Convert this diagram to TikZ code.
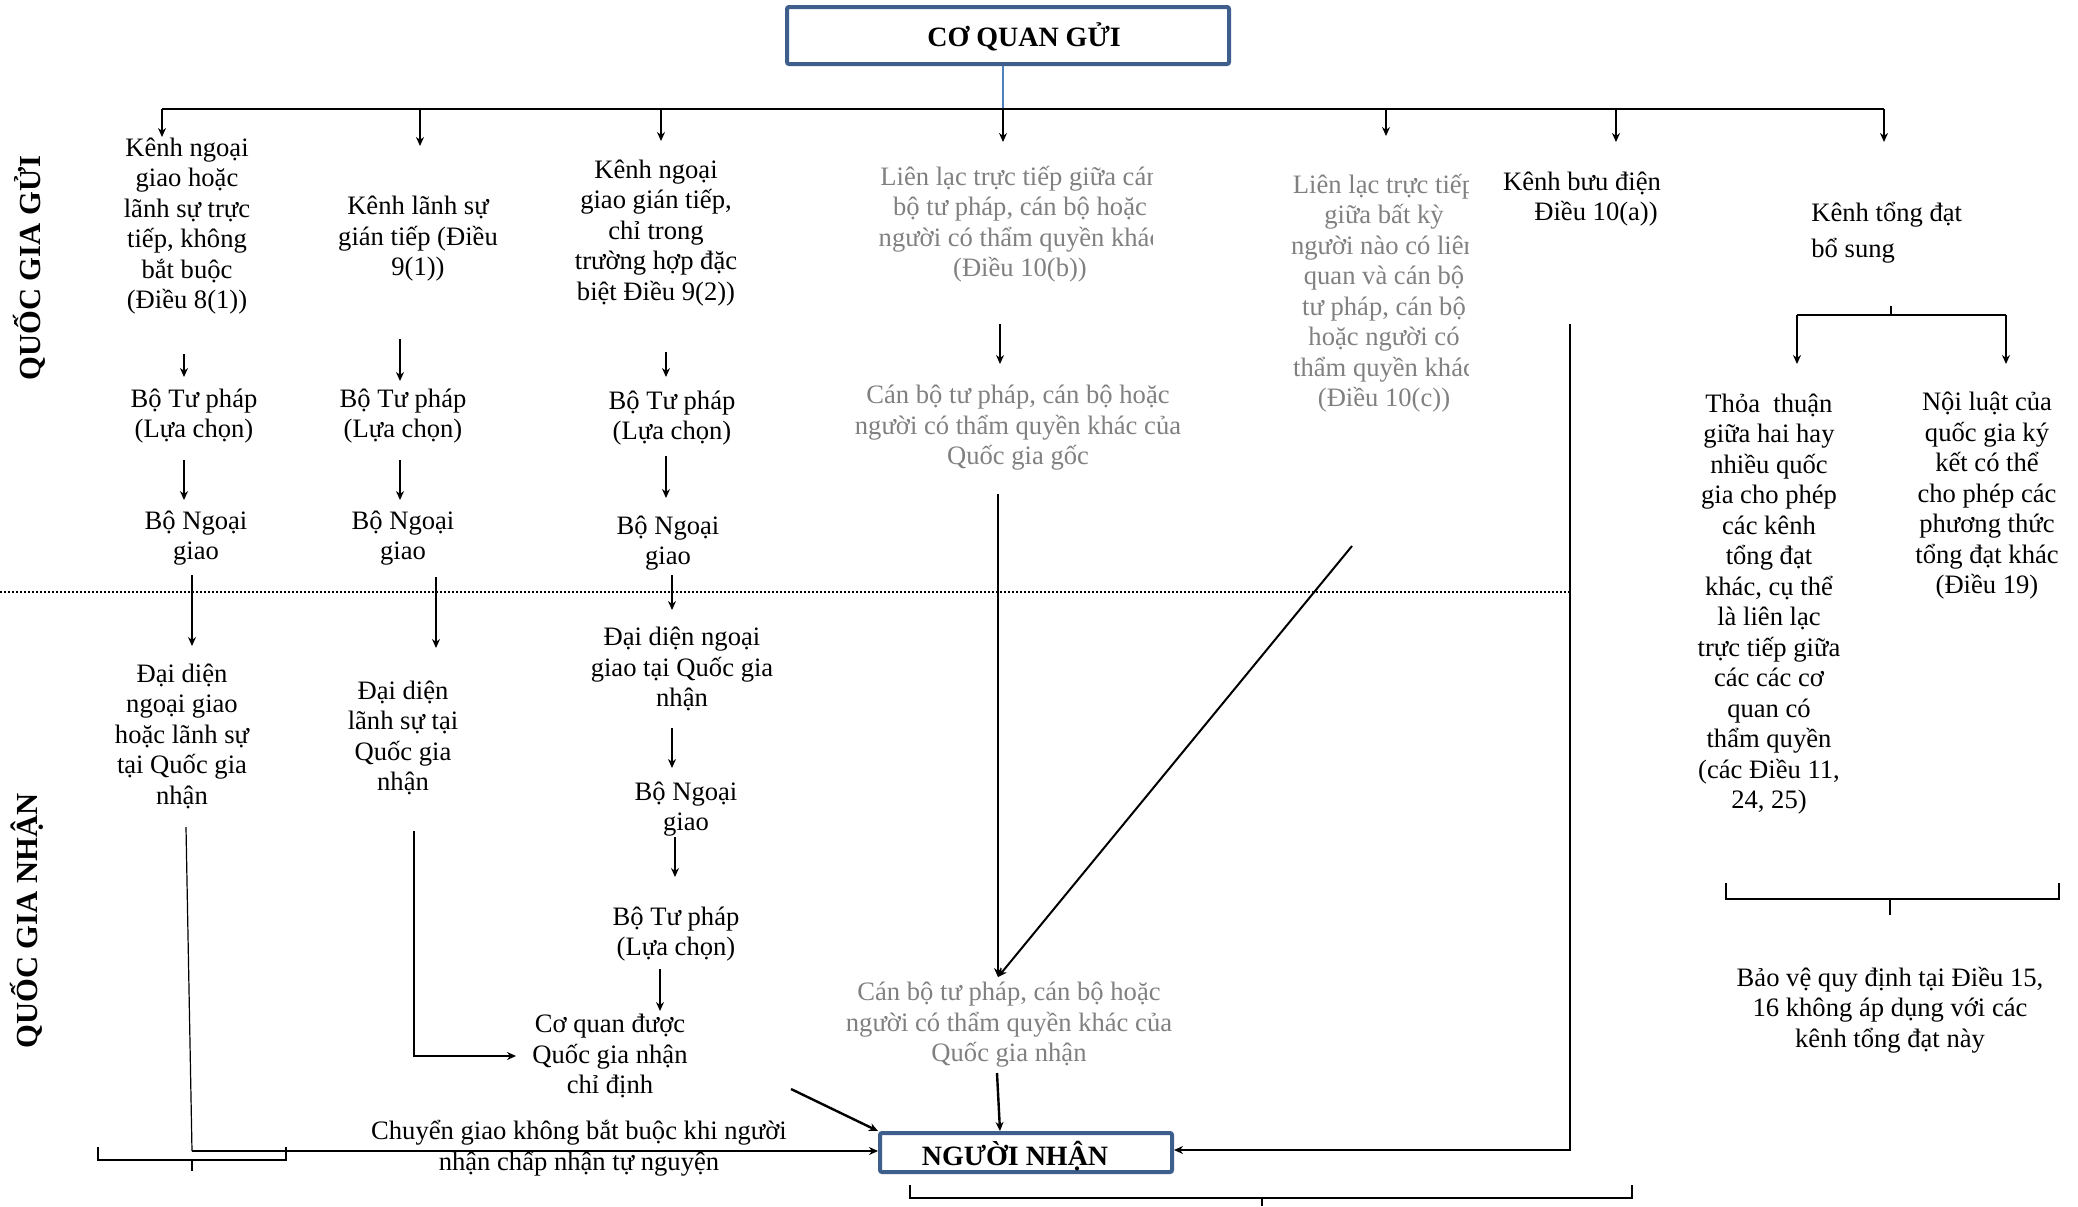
\documentclass[tikz,border=0pt]{standalone}
\usepackage{fontspec}
\setmainfont{Liberation Serif}
\usetikzlibrary{arrows.meta}
\definecolor{boxblue}{RGB}{62,95,140}
\definecolor{txtgray}{RGB}{128,128,128}
\definecolor{linkblue}{RGB}{79,129,189}
\begin{document}
\begin{tikzpicture}[x=0.5pt,y=-0.5pt,
 txt/.style={font=\fontsize{13.3}{15.25}\selectfont, align=center, inner sep=0pt},
 gtxt/.style={txt, text=txtgray},
 arr/.style={-{Stealth[length=4.5pt,width=4pt]}, line width=1.2pt},
 bus/.style={line width=0.9pt},
 thinln/.style={line width=0.6pt},
 rbox/.style={draw=boxblue, line width=2pt, rounded corners=1pt},
 head/.style={font=\fontsize{14}{16}\selectfont\bfseries, inner sep=0pt},
 side/.style={font=\fontsize{15.3}{17}\selectfont\bfseries, rotate=90, inner sep=0pt}]

\useasboundingbox (0,0) rectangle (2078,1206);

% side labels
\node[side] (gui) at (29,268) {QUỐC GIA GỬI};
\node[side] (nhan) at (27,921) {QUỐC GIA NHẬN};

% sender box
\node[rbox, minimum width=221pt, minimum height=28.5pt] (sender) at (1008,35.5) {};
\node[head] (senderlbl) at (1024,37) {CƠ QUAN GỬI};
\coordinate (hub) at (1003,109);
\draw[draw=linkblue, line width=0.6pt] (sender.south -| hub) -- (hub);

% bus
\coordinate (busL) at (162,109);
\coordinate (busR) at (1884,109);
\draw[bus] (busL) -- (busR);
\draw[arr] (162,109) -- (162,137);
\draw[arr] (420,109) -- (420,146);
\draw[arr] (661,109) -- (661,141);
\draw[arr] (1003,109) -- (1003,142);
\draw[arr] (1386,109) -- (1386,136);
\draw[arr] (1616,109) -- (1616,142);
\draw[arr] (1884,109) -- (1884,142);

% dotted divider
\draw[line width=1pt, dash pattern=on 1pt off 1pt] (0,592) -- (1570,592);

% column 1
\node[txt] (c1a) at (187,226) {Kênh ngoại\\giao hoặc\\lãnh sự trực\\tiếp, không\\bắt buộc\\(Điều 8(1))};
\node[txt] (c1b) at (194,416) {Bộ Tư pháp\\(Lựa chọn)};
\node[txt] (c1c) at (196,538) {Bộ Ngoại\\giao};
\node[txt] (c1d) at (182,736) {Đại diện\\ngoại giao\\hoặc lãnh sự\\tại Quốc gia\\nhận};
\draw[arr] (184,354) -- (184,377);
\draw[arr] (184,460) -- (184,500);
\draw[arr] (192,575) -- (192,646);

% column 2
\node[txt] (c2a) at (418,239) {Kênh lãnh sự\\gián tiếp (Điều\\9(1))};
\node[txt] (c2b) at (403,416) {Bộ Tư pháp\\(Lựa chọn)};
\node[txt] (c2c) at (403,538) {Bộ Ngoại\\giao};
\node[txt] (c2d) at (403,738) {Đại diện\\lãnh sự tại\\Quốc gia\\nhận};
\draw[arr] (400,339) -- (400,381);
\draw[arr] (400,460) -- (400,500);
\draw[arr] (436,577) -- (436,648);

% column 3
\node[txt] (c3a) at (656,233) {Kênh ngoại\\giao gián tiếp,\\chỉ trong\\trường hợp đặc\\biệt Điều 9(2))};
\node[txt] (c3b) at (672,418) {Bộ Tư pháp\\(Lựa chọn)};
\node[txt] (c3c) at (668,543) {Bộ Ngoại\\giao};
\node[txt] (c3d) at (682,669) {Đại diện ngoại\\giao tại Quốc gia\\nhận};
\node[txt] (c3e) at (686,809) {Bộ Ngoại\\giao};
\node[txt] (c3f) at (676,934) {Bộ Tư pháp\\(Lựa chọn)};
\node[txt] (c3g) at (610,1056) {Cơ quan được\\Quốc gia nhận\\chỉ định};
\draw[arr] (666,352) -- (666,377);
\draw[arr] (666,456) -- (666,498);
\draw[arr] (672,575) -- (672,610);
\draw[arr] (672,728) -- (672,768);
\draw[arr] (675,837) -- (675,877);
\draw[arr] (660,969) -- (660,1011);

\node[txt] (transfer) at (579,1148) {Chuyển giao không bắt buộc khi người\\nhận chấp nhận tự nguyện};

% receiver box
\node[rbox, minimum width=146pt, minimum height=19.5pt] (recv) at (1026,1152.5) {};
\node[head] (recvlbl) at (1015,1156) {NGƯỜI NHẬN};

% column 4 (gray)
\begin{scope}
\clip (840,150) rectangle (1152,300);
\node[gtxt] (c4a) at (1020,224) {Liên lạc trực tiếp giữa cán\\bộ tư pháp, cán bộ hoặc\\người có thẩm quyền khác\\(Điều 10(b))};
\end{scope}
\node[gtxt] (c4b) at (1018,428) {Cán bộ tư pháp, cán bộ hoặc\\người có thẩm quyền khác của\\Quốc gia gốc};
\node[gtxt] (c4c) at (1009,1025) {Cán bộ tư pháp, cán bộ hoặc\\người có thẩm quyền khác của\\Quốc gia nhận};
\draw[arr] (1000,324) -- (1000,364);
\coordinate (meet) at (998,977);
\draw[arr] (998,494) -- (meet);
\coordinate (diagtop) at (1352,546);
\draw[arr, line width=1pt] (diagtop) -- (meet);
\draw[arr] (997,1073) -- (recv.north -| 1000,0);

% column 5 (gray)
\begin{scope}
\clip (1280,150) rectangle (1468,420);
\node[gtxt] (c5a) at (1384,293) {Liên lạc trực tiếp\\giữa bất kỳ\\người nào có liên\\quan và cán bộ\\tư pháp, cán bộ\\hoặc người có\\thẩm quyền khác\\(Điều 10(c))};
\end{scope}

% column 6
\node[txt] (c6a) at (1582,199) {Kênh bưu điện\\\hspace*{14pt}Điều 10(a))};
\coordinate (postA) at (1570,324);
\coordinate (postB) at (1570,1150);
\draw[arr, line width=1pt] (postA) -- (postB) -- (postB -| recv.east);

% column 7
\node[txt, align=left, anchor=west, font=\fontsize{13.3}{18}\selectfont] (c7a) at (1811,233) {Kênh tổng đạt\\bổ sung};
\draw[thinln] (1891,306) -- (1891,315);
\draw[bus] (1797,315) -- (2006,315);
\draw[arr] (1797,315) -- (1797,364);
\draw[arr] (2006,315) -- (2006,364);
\node[txt] (c7b) at (1769,604) {Thỏa~~thuận\\giữa hai hay\\nhiều quốc\\gia cho phép\\các kênh\\tổng đạt\\khác, cụ thể\\là liên lạc\\trực tiếp giữa\\các các cơ\\quan có\\thẩm quyền\\(các Điều 11,\\24, 25)};
\node[txt] (c7c) at (1987,496) {Nội luật của\\quốc gia ký\\kết có thể\\cho phép các\\phương thức\\tổng đạt khác\\(Điều 19)};
\draw[thinln] (1726,883) -- (1726,899) -- (2059,899) -- (2059,883);
\draw[thinln] (1890,899) -- (1890,915);
\node[txt] (c7d) at (1890,1010) {Bảo vệ quy định tại Điều 15,\\16 không áp dụng với các\\kênh tổng đạt này};

% connectors into receiver
\coordinate (c1foot) at (186,827);
\coordinate (c1corner) at (192,1151);
\draw[thinln] (c1foot) -- (c1corner);
\draw[arr] (c1corner) -- (c1corner -| recv.west);
\coordinate (c2foot) at (414,831);
\coordinate (c2corner) at (414,1056);
\draw[arr, line width=1pt] (c2foot) -- (c2corner) -- (516,1056);
\coordinate (c3foot) at (791,1089);
\draw[arr] (c3foot) -- (recv.north west);

% braces
\draw[thinln] (98,1147) -- (98,1160) -- (286,1160) -- (286,1147);
\draw[thinln] (192,1160) -- (192,1171);
\draw[thinln] (910,1185) -- (910,1198) -- (1632,1198) -- (1632,1185);
\draw[thinln] (1262,1198) -- (1262,1206);
\end{tikzpicture}
\end{document}
